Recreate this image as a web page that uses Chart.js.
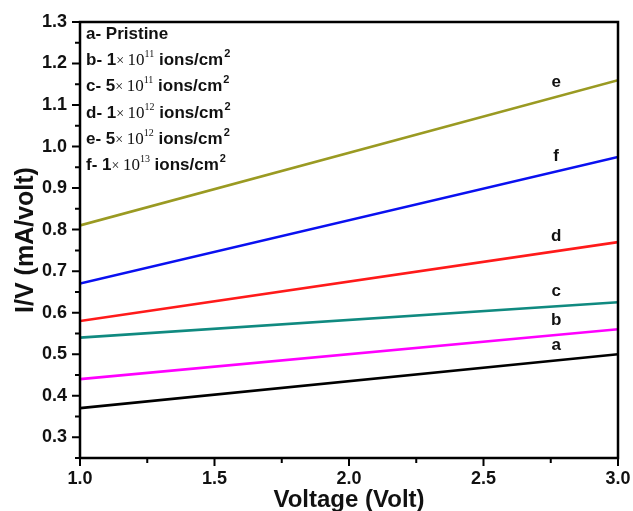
<!DOCTYPE html>
<html>
<head>
<meta charset="utf-8">
<script src="https://cdn.jsdelivr.net/npm/chart.js@4.4.1/dist/chart.umd.min.js"></script>
<style>
  html, body { margin: 0; padding: 0; background: #fff; }
  #wrap { width: 633px; height: 511px; }
</style>
</head>
<body>
<div id="wrap"><canvas id="ivChart" width="633" height="511"></canvas></div>
<script>
// Data
const voltage = [1.0, 3.0];
const seriesA = [0.37, 0.50];   // pristine
const seriesB = [0.44, 0.56];
const seriesC = [0.54, 0.625];
const seriesD = [0.58, 0.77];
const seriesE = [0.81, 1.16];
const seriesF = [0.67, 0.975];
const seriesNames = ["a", "b", "c", "d", "e", "f"];
const seriesColors = ["#000000", "#ff00ff", "#108a80", "#ff1a1a", "#9a9a22", "#0a10f0"];
const xTicks = [1.0, 1.5, 2.0, 2.5, 3.0];
const yTicks = [0.3, 0.4, 0.5, 0.6, 0.7, 0.8, 0.9, 1.0, 1.1, 1.2, 1.3];
const legendRows = [
  { tag: "a- Pristine" },
  { tag: "b- ", m: "1", exp: "11" },
  { tag: "c- ", m: "5", exp: "11" },
  { tag: "d- ", m: "1", exp: "12" },
  { tag: "e- ", m: "5", exp: "12" },
  { tag: "f- ", m: "1", exp: "13" }
];
const labelAtX = 2.77;

const allSeries = [seriesA, seriesB, seriesC, seriesD, seriesE, seriesF];
const FONT = "'Liberation Sans', Arial, sans-serif";
const SERIF = "'Liberation Serif', 'Times New Roman', serif";

// Frame, outward ticks, curve letters and the composition text box
const decorPlugin = {
  id: "decor",
  afterDraw(chart) {
    const ctx = chart.ctx;
    const a = chart.chartArea;
    const xs = chart.scales.x, ys = chart.scales.y;
    ctx.save();
    ctx.strokeStyle = "#000";
    ctx.lineWidth = 2.5;
    ctx.strokeRect(a.left, a.top, a.right - a.left, a.bottom - a.top);

    ctx.lineWidth = 2;
    ctx.beginPath();
    for (let v = 1.0; v <= 3.0001; v += 0.25) {
      const px = xs.getPixelForValue(v);
      const major = Math.abs(v * 2 - Math.round(v * 2)) < 1e-6;
      ctx.moveTo(px, a.bottom);
      ctx.lineTo(px, a.bottom + (major ? 8 : 5));
    }
    for (let v = 0.25; v <= 1.3001; v += 0.05) {
      const py = ys.getPixelForValue(v);
      const major = Math.abs(v * 10 - Math.round(v * 10)) < 1e-6;
      ctx.moveTo(a.left, py);
      ctx.lineTo(a.left - (major ? 8 : 5), py);
    }
    ctx.stroke();

    // curve letters
    ctx.fillStyle = "#111";
    ctx.font = "bold 17px " + FONT;
    ctx.textAlign = "center";
    ctx.textBaseline = "middle";
    allSeries.forEach((s, i) => {
      const t = (labelAtX - voltage[0]) / (voltage[1] - voltage[0]);
      const val = s[0] + (s[1] - s[0]) * t;
      const px = xs.getPixelForValue(labelAtX);
      const py = ys.getPixelForValue(val) - 15;
      ctx.fillText(seriesNames[i], px, py);
    });

    // composition text
    ctx.textAlign = "left";
    ctx.textBaseline = "alphabetic";
    let y = a.top + 17;
    legendRows.forEach(r => {
      let x = a.left + 6;
      ctx.font = "bold 17px " + FONT;
      ctx.fillText(r.tag, x, y);
      x += ctx.measureText(r.tag).width;
      if (r.m) {
        ctx.fillText(r.m, x, y);
        x += ctx.measureText(r.m).width;
        ctx.font = "14px " + SERIF;
        ctx.fillText("\u00d7 ", x, y);
        x += ctx.measureText("\u00d7 ").width;
        ctx.font = "17px " + SERIF;
        ctx.fillText("10", x, y);
        x += ctx.measureText("10").width;
        ctx.font = "10px " + SERIF;
        ctx.fillText(r.exp, x, y - 8);
        x += ctx.measureText(r.exp).width;
        ctx.font = "bold 17px " + FONT;
        ctx.fillText(" ions/cm", x, y);
        x += ctx.measureText(" ions/cm").width;
        ctx.font = "bold 11px " + FONT;
        ctx.fillText("2", x + 1, y - 8);
      }
      y += 26.2;
    });
    ctx.restore();
  }
};

new Chart(document.getElementById("ivChart"), {
  type: "line",
  data: {
    datasets: allSeries.map((s, i) => ({
      label: seriesNames[i],
      data: voltage.map((v, k) => ({ x: v, y: s[k] })),
      borderColor: seriesColors[i],
      borderWidth: 2.6,
      pointRadius: 0,
      tension: 0,
      fill: false
    }))
  },
  options: {
    responsive: false,
    animation: false,
    layout: { padding: { top: 22, right: 15, left: 0, bottom: 0 } },
    plugins: { legend: { display: false }, tooltip: { enabled: false } },
    scales: {
      x: {
        type: "linear",
        min: 1.0,
        max: 3.0,
        afterBuildTicks: s => { s.ticks = xTicks.map(v => ({ value: v })); },
        afterFit: s => { s.height = 53; s.paddingLeft = 0; s.paddingRight = 0; },
        grid: { display: false },
        border: { display: false },
        ticks: {
          padding: 2,
          color: "#111",
          font: { family: FONT, size: 18, weight: "bold" },
          callback: v => v.toFixed(1)
        },
        title: {
          display: true,
          text: "Voltage (Volt)",
          color: "#111",
          font: { family: FONT, size: 24, weight: "bold" },
          padding: { top: 0, bottom: -4 }
        }
      },
      y: {
        min: 0.25,
        max: 1.3,
        afterBuildTicks: s => { s.ticks = yTicks.map(v => ({ value: v })); },
        afterFit: s => { s.width = 80; s.paddingTop = 0; s.paddingBottom = 0; },
        grid: { display: false },
        border: { display: false },
        ticks: {
          padding: 5,
          color: "#111",
          font: { family: FONT, size: 18, weight: "bold" },
          callback: v => v.toFixed(1)
        },
        title: {
          display: true,
          text: "I/V (mA/volt)",
          color: "#111",
          font: { family: FONT, size: 25, weight: "bold" },
          padding: { top: 11, bottom: 0 }
        }
      }
    }
  },
  plugins: [decorPlugin]
});
</script>
</body>
</html>
